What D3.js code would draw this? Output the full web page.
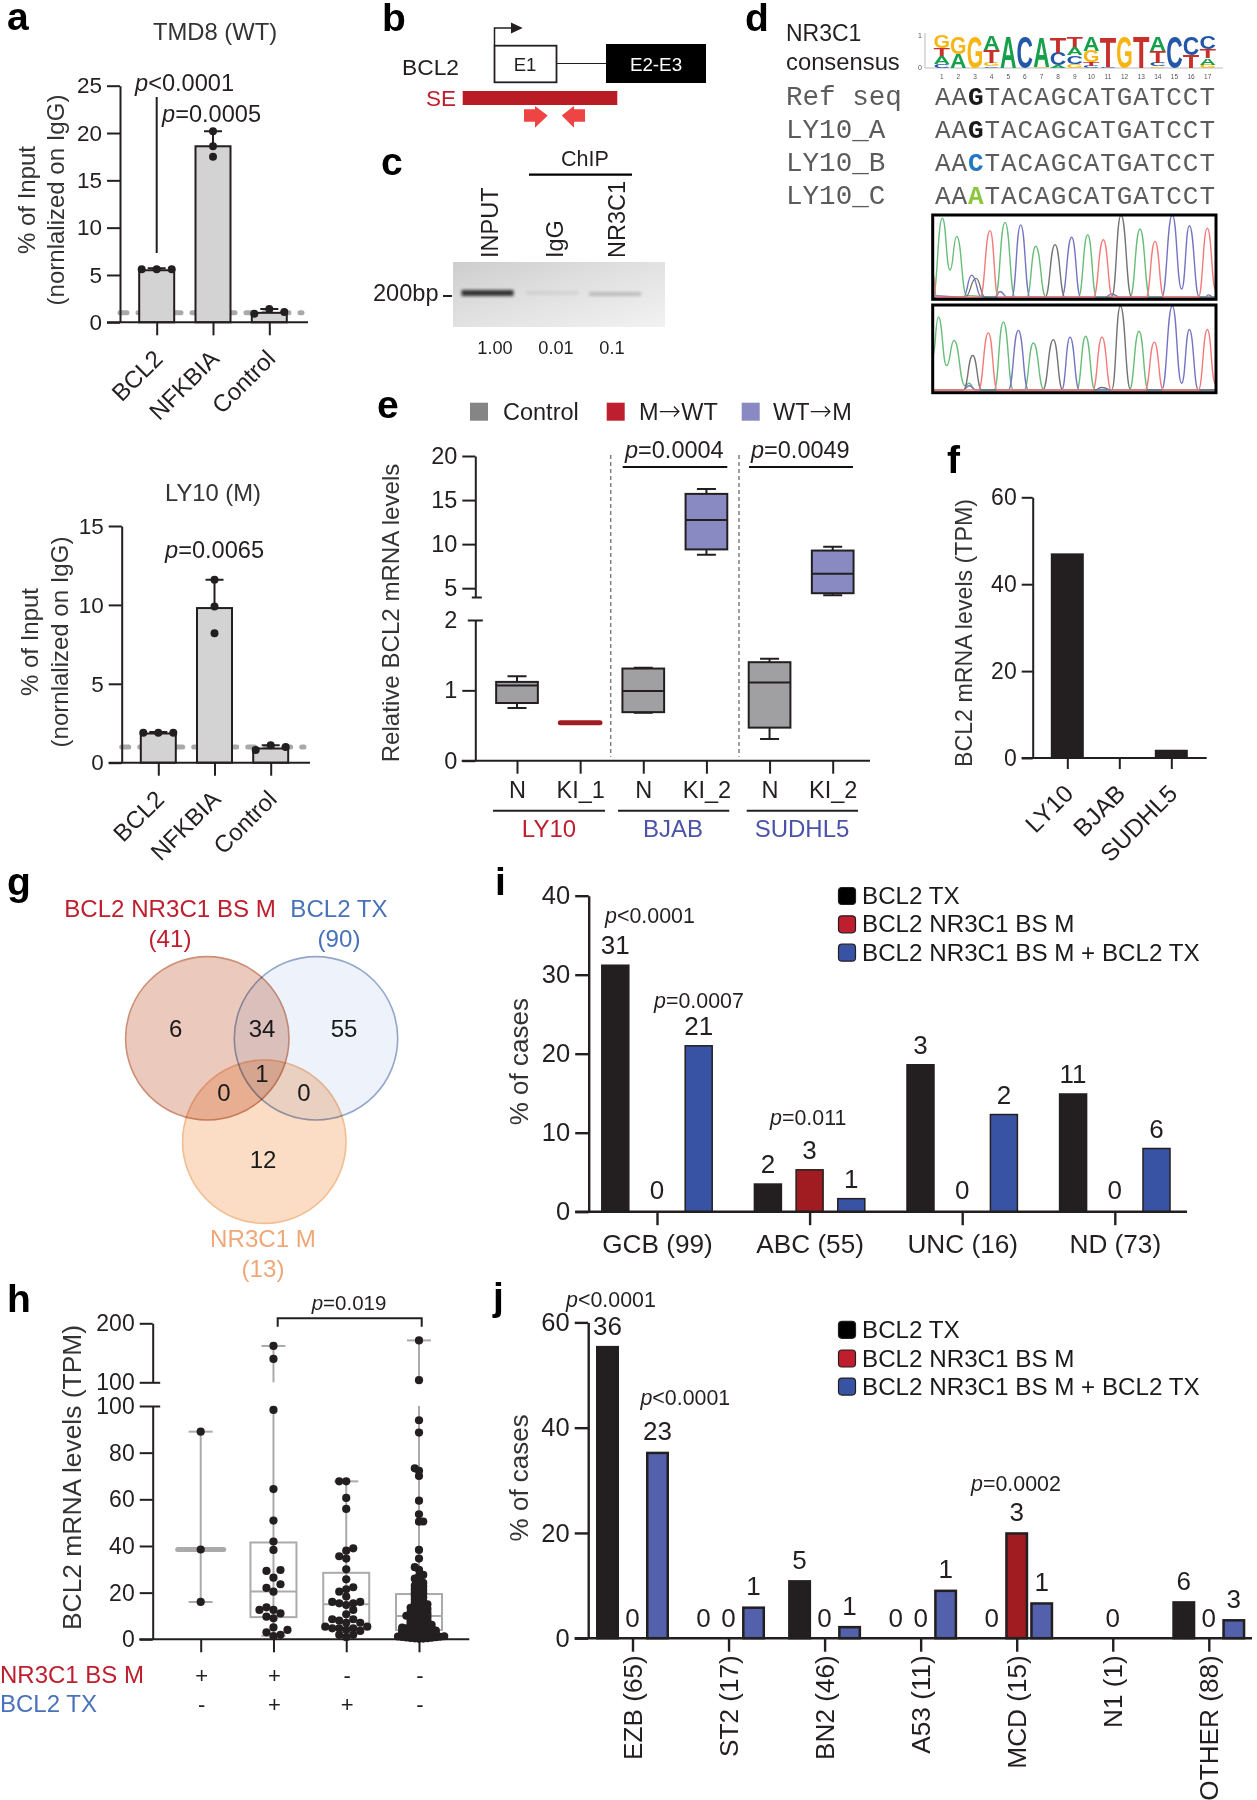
<!DOCTYPE html>
<html><head><meta charset="utf-8">
<script src="https://cdn.jsdelivr.net/npm/d3@7/dist/d3.min.js"></script>
<style>html,body{margin:0;background:#fff}svg{display:block;font-family:"Liberation Sans",Arial,sans-serif}</style>
</head><body><div id="c"></div>
<script>
// ---------- data ----------
const chipTargets = ["BCL2","NFKBIA","Control"];
const tmd8Bars = [5.5,18.6,1.0];
const tmd8Points = [[5.6,5.6,5.6],[20.2,18.6,17.5],[0.9,1.4,1.1]];
const tmd8Caps = [5.7,20.2,1.4];
const ly10Bars = [1.85,9.8,0.9];
const ly10Points = [[1.9,1.9,1.9],[11.6,9.9,8.2],[0.8,1.1,1.0]];
const ly10Caps = [1.95,11.6,1.1];

const gelLanes = ["INPUT","IgG","NR3C1"];
const gelRatios = ["1.00","0.01","0.1"];
const gelDarkness = [0.88,0.07,0.2];

const logoLetters = [
 [["C",.12],["A",.23],["T",.25],["G",.38]],
 [["A",.42],["G",.5]],
 [["G",.95]],
 [["C",.05],["G",.1],["T",.4],["A",.42]],
 [["A",.97]],
 [["C",.97]],
 [["G",.03],["A",.92]],
 [["A",.08],["C",.38],["T",.49]],
 [["G",.13],["C",.25],["A",.25],["T",.33]],
 [["C",.07],["T",.1],["G",.36],["A",.44]],
 [["C",.03],["T",.94]],
 [["G",.97]],
 [["T",.97]],
 [["G",.05],["C",.1],["T",.36],["A",.45]],
 [["C",.97]],
 [["T",.4],["C",.55]],
 [["G",.1],["A",.2],["T",.27],["C",.41]]
];
const logoColors = {A:"#17a04c",C:"#2358a8",G:"#f6b512",T:"#c8302c"};
const seqNames = ["Ref seq","LY10_A","LY10_B","LY10_C"];
const seqPrefix = "AA";
const seqVariant = ["G","G","C","A"];
const seqVariantColor = ["#1a1a1a","#1a1a1a","#1f78c1","#8cc63f"];
const seqSuffix = "TACAGCATGATCCT";

const trace1 = {
 green:[[38,0],[67,96],[90,33],[110,74],[140,2],[225,0],[255,91],[285,0],[320,0],[347,62],[378,0],[475,0],[503,76],[530,0],[630,0],[660,83],[690,0],[888,0]],
 blue:[[38,2],[130,0],[155,27],[185,0],[225,0],[240,7],[262,0],[275,0],[302,88],[330,0],[425,0],[455,73],[482,0],[555,0],[575,4],[600,0],[725,0],[757,100],[785,10],[808,87],[838,0],[855,0],[865,3],[880,0]],
 gray:[[38,0],[135,0],[168,23],[195,0],[375,0],[405,64],[435,0],[575,0],[603,100],[635,0],[888,0]],
 red:[[38,30],[50,0],[180,0],[210,81],[235,0],[520,0],[550,70],[578,0],[678,0],[705,68],[732,0],[835,0],[862,84],[888,8]]
};
const trace2 = {
 green:[[38,40],[55,87],[80,29],[102,59],[135,5],[147,8],[165,0],[222,0],[250,81],[280,0],[312,0],[340,56],[372,0],[470,0],[497,64],[525,0],[628,0],[657,70],[685,0],[888,0]],
 blue:[[38,0],[130,0],[147,5],[170,0],[265,0],[295,71],[325,0],[425,0],[450,63],[478,0],[725,0],[757,100],[785,8],[808,72],[835,0],[888,0]],
 gray:[[38,0],[130,0],[158,41],[185,0],[368,0],[400,60],[428,0],[525,0],[545,3],[575,0],[601,100],[632,0],[888,0]],
 red:[[38,0],[175,0],[205,68],[232,0],[518,0],[546,63],[574,0],[675,0],[703,57],[730,0],[835,0],[862,72],[886,8]]
};
const traceColors = {green:"#68bd7a",blue:"#7474c2",gray:"#737373",red:"#f47a7a"};

const eLegend = [["Control"],["M","WT"],["WT","M"]];
const eLegendColors = ["#858585","#be1e2d","#8a8ac2"];
const eTickNames = ["N","KI_1","N ","KI_2","N  ","KI_2 "];
const eGroups = ["LY10","BJAB","SUDHL5"];
const eGroupColors = ["#be1e2d","#4b52a8","#4b52a8"];
const eLow  = [0.75,null,0.68,8.8,0.31,4.2];
const eQ1   = [0.82,0.54,0.69,9.4,0.47,4.43];
const eMed  = [1.07,0.54,0.99,12.75,1.11,6.63];
const eQ3   = [1.12,0.54,1.31,15.7,1.40,9.27];
const eHigh = [1.20,null,1.32,16.26,1.45,9.7];
const eFill = ["#a0a0a3","#a01c20","#a0a0a3","#8a8ac2","#a0a0a3","#8a8ac2"];
const eUpper= [false,false,false,true,false,true];

const fLines = ["LY10","BJAB","SUDHL5"];
const fValues = [47.1,0.2,1.9];

const vennCounts = [6,34,55,1,0,0,12];
const vennTitles = ["BCL2 NR3C1 BS M","BCL2 TX","NR3C1 M"];
const vennTotals = ["(41)","(90)","(13)"];

const hGroupKeys = ["g1","g2","g3","g4"];
const hRowA = ["+","+","-","-"];
const hRowB = ["-","+","+","-"];
const hQ1 = [null,9.5,5,4];
const hMedian = [38.5,20.5,15,10];
const hQ3 = [null,41.5,28.5,19.4];
const hMin = [16,1.5,0.9,0.2];
const hMax = [89,161.6,67.7,171];
const hGroup1 = [89,38.5,16];
const hGroup2 = [161.6,139.6,98.3,64.4,50.9,41.9,38.3,29.7,29.3,26.4,23.6,22,20.4,13.7,12.6,12.6,11.1,9.7,9,5.1,4,3,1.9,1.4];
const hGroup3 = [67.7,67.7,60.6,55.9,39,38,35.6,34.6,30,25.7,22.3,21.4,20.4,18.3,16,16,15.4,15.4,14.7,12.6,10.7,8.6,8.6,8,7.1,7.1,5.4,5.4,4.7,4.7,4.7,4,3.6,1.9,1.9,0.9];
const hGroup4 = [171,103.6,93.9,88.6,73.3,72.2,70,59.4,53.6,50.5,50.4,38.3,34.6,30.9,29.8,27.6,27.1,26,25.3,24.2,23.9,23,22.6,22,21.4,21.1,20.4,20,19.7,19.1,18.6,18,17.7,17,16.4,16.1,15.6,15,14.6,14.3,13.9,13.5,13.2,13,12.6,12.4,12,11.6,11.4,11,10.7,10.5,10.1,10,9.7,9.4,9.3,9,8.7,8.5,8.2,8,7.8,7.4,7.3,7,6.7,6.6,6.2,6,5.7,5.6,5.2,5,4.8,4.7,4.3,4.1,4,3.9,3.5,3.4,3.1,3,2.9,2.6,2.5,2.2,2,1.9,1.6,1.5,1.4,1.3,1.1,1,0.9,0.8,0.7,0.6,0.5,0.4,0.3,0.2,2.7,3.3,3.7,4.5,5.4,1.7,2.3,1.2];

const legendNames = ["BCL2 TX","BCL2 NR3C1 BS M","BCL2 NR3C1 BS M + BCL2 TX"];
const seriesKeys = ["tx","bs","both"];
const seriesColorsI = ["#231f20","#a01c20","#3953a4"];
const seriesColorsJ = ["#231f20","#a01c20","#5361ad"];
const legendColors = ["#000000","#be1e2d","#3953a4"];
const iCats = ["GCB (99)","ABC (55)","UNC (16)","ND (73)"];
const iTx   = [31.2,3.5,18.6,14.9];
const iBs   = [0,5.3,0,0];
const iBoth = [21,1.65,12.3,8.0];
const iTxN  = [31,2,3,11];
const iBsN  = [0,3,0,0];
const iBothN= [21,1,2,6];
const jCats = ["EZB (65)","ST2 (17)","BN2 (46)","A53 (11)","MCD (15)","N1 (1)","OTHER (88)"];
const jTx   = [55.3,0,10.8,0,0,0,6.8];
const jBs   = [0,0,0,0,19.9,0,0];
const jBoth = [35.2,5.8,2.1,9,6.6,0,3.4];
const jTxN  = [36,0,5,0,0,null,6];
const jBsN  = [0,0,0,0,3,0,0];
const jBothN= [23,1,1,1,1,null,3];

// ---------- helpers ----------
const ink = "#231f20";
const svg = d3.select("#c").append("svg").attr("width",1257).attr("height",1800).attr("viewBox","0 0 1257 1800");
const defs = svg.append("defs");

function txt(x,y,s,o={}){
  const t = svg.append("text").attr("x",x).attr("y",y).attr("font-size",o.size||22).attr("fill",o.fill||ink).text(s);
  if(o.anchor) t.attr("text-anchor",o.anchor);
  if(o.weight) t.attr("font-weight",o.weight);
  if(o.family) t.attr("font-family",o.family);
  if(o.rot!==undefined) t.attr("transform",`rotate(${o.rot} ${x} ${y})`);
  return t;
}
function ptxt(x,y,s,size){
  const t = svg.append("text").attr("x",x).attr("y",y).attr("font-size",size).attr("fill",ink);
  t.append("tspan").attr("font-style","italic").text("p");
  t.append("tspan").text(s);
}
function hline(x1,x2,y,w=2,c=ink){svg.append("line").attr("x1",x1).attr("x2",x2).attr("y1",y).attr("y2",y).attr("stroke",c).attr("stroke-width",w);}
function styleAxis(ax,font,w=2){
  ax.attr("font-family",null);
  ax.selectAll("path,line").attr("stroke",ink).attr("stroke-width",w);
  ax.selectAll("text").attr("font-size",font).attr("fill",ink);
}
function axisLeft(x,scale,ticks,font=22.5,size=13,w=2){
  const ax = svg.append("g").attr("transform",`translate(${x},0)`)
    .call(d3.axisLeft(scale).tickValues(ticks).tickFormat(d3.format("d")).tickSize(size).tickPadding(5).tickSizeOuter(0));
  styleAxis(ax,font,w); return ax;
}
function axisBottom(y,scale,font=22,size=13,pad=8,w=2){
  const ax = svg.append("g").attr("transform",`translate(0,${y})`)
    .call(d3.axisBottom(scale).tickSize(size).tickPadding(pad).tickSizeOuter(0));
  ax.select(".domain").remove();
  styleAxis(ax,font,w); return ax;
}
function rotateLabels(ax,dx,dy,deg=-45){
  ax.selectAll("text").attr("text-anchor","end").attr("x",0).attr("y",0).attr("dy",0)
    .attr("transform",`translate(${dx},${dy}) rotate(${deg})`);
}

// ---------- panel letters ----------
[["a",7,30],["b",382,31],["c",381,175],["d",745,31],["e",377,418],["f",947,473],["g",7,895],["h",7,1312],["i",495,895],["j",493,1310]]
 .forEach(d=>txt(d[1],d[2],d[0],{size:39,weight:"bold",fill:"#000"}));

// ---------- panel a ----------
function chipPanel(o){
  const y = d3.scaleLinear().domain([0,o.max]).range([o.y0,o.yTop]);
  const x = d3.scalePoint().domain(chipTargets).range(o.xr);
  const bw=35, off=15;
  svg.append("line").attr("x1",o.ax).attr("x2",o.xEnd-6).attr("y1",y(1)).attr("y2",y(1))
    .attr("stroke","#a9a9a9").attr("stroke-width",5).attr("stroke-linecap","round").attr("stroke-dasharray","7 11");
  svg.append("g").selectAll("rect").data(chipTargets).join("rect")
    .attr("x",d=>x(d)-bw/2).attr("width",bw)
    .attr("y",(d,i)=>y(o.bars[i])).attr("height",(d,i)=>y(0)-y(o.bars[i]))
    .attr("fill","#d3d3d3").attr("stroke",ink).attr("stroke-width",2);
  svg.append("g").selectAll("path").data(chipTargets).join("path")
    .attr("d",(d,i)=>`M${x(d)},${y(o.bars[i])}V${y(o.caps[i])}M${x(d)-9},${y(o.caps[i])}H${x(d)+9}`)
    .attr("stroke",ink).attr("stroke-width",2).attr("fill","none");
  chipTargets.forEach((d,i)=>{
    const sideways = i!==1;
    svg.append("g").selectAll("circle").data(o.points[i]).join("circle")
      .attr("cx",(v,k)=>x(d)+(sideways?(k-1)*off:0)).attr("cy",v=>y(v)).attr("r",4).attr("fill",ink);
  });
  axisLeft(o.ax,y,o.ticks,22.5);
  hline(o.ax-13,o.xEnd,y(0));
  const bx = axisBottom(o.y0,x,24,13);
  rotateLabels(bx,o.ldx,o.ldy);
  txt(o.labX,o.labY,"% of Input",{size:24,rot:-90,anchor:"middle",fill:"#333"});
  txt(o.labX2,o.labY,"(nornlalized on IgG)",{size:24,rot:-90,anchor:"middle",fill:"#333"});
  txt(o.titleX,o.titleY,o.title,{size:23.8,anchor:"middle",fill:"#333"});
}
chipPanel({title:"TMD8 (WT)",titleX:215,titleY:40,bars:tmd8Bars,points:tmd8Points,caps:tmd8Caps,max:25,ticks:[0,5,10,15,20,25],
  y0:322.3,yTop:85.7,xr:[156.7,269.3],ax:120,xEnd:308,labX:35,labX2:64,labY:200,ldx:7,ldy:38});
svg.append("line").attr("x1",156.7).attr("x2",156.7).attr("y1",97).attr("y2",253).attr("stroke",ink).attr("stroke-width",2);
ptxt(135,90.7,"<0.0001",23.6); ptxt(162,121.7,"=0.0005",23.6);
chipPanel({title:"LY10 (M)",titleX:213,titleY:501,bars:ly10Bars,points:ly10Points,caps:ly10Caps,max:15,ticks:[0,5,10,15],
  y0:762.7,yTop:526,xr:[158.3,270.7],ax:121.7,xEnd:310,labX:38,labX2:68,labY:642,ldx:7,ldy:38});
ptxt(165,558,"=0.0065",23.6);

// ---------- panel b ----------
txt(402,75,"BCL2",{size:22.8});
svg.append("rect").attr("x",494.5).attr("y",45.7).attr("width",62).attr("height",36.6).attr("fill","#fff").attr("stroke",ink).attr("stroke-width",1.8);
svg.append("line").attr("x1",556.7).attr("x2",606).attr("y1",63.5).attr("y2",63.5).attr("stroke",ink).attr("stroke-width",1.2);
svg.append("rect").attr("x",606).attr("y",44).attr("width",100).attr("height",39).attr("fill","#000");
txt(525,71,"E1",{size:18.5,anchor:"middle"});
txt(656,71,"E2-E3",{size:18.8,anchor:"middle",fill:"#fff"});
svg.append("path").attr("d","M494.5,45V28H512").attr("fill","none").attr("stroke",ink).attr("stroke-width",1.5);
svg.append("path").attr("d","M511,22.5L522.7,28L511,33.5Z").attr("fill",ink);
txt(426,106,"SE",{size:22.5,fill:"#be1e2d"});
svg.append("rect").attr("x",462.7).attr("y",91).attr("width",154.6).attr("height",14).attr("fill","#b91c25");
svg.append("path").attr("d","M524,109.3H535V106L547.7,115.5L535,127.7V121.7H524Z").attr("fill","#ef4444");
svg.append("path").attr("d","M585,109.3H574V106L561.7,115.5L574,127.7V121.7H585Z").attr("fill","#ef4444");

// ---------- panel c ----------
txt(585,165.7,"ChIP",{size:21.5,anchor:"middle"});
hline(529,632,174.7,2.2,"#000");
const gelGrad = defs.append("linearGradient").attr("id","gel").attr("x1",0).attr("y1",0).attr("x2",1).attr("y2",1);
gelGrad.append("stop").attr("offset",0).attr("stop-color","#cdcdcd");
gelGrad.append("stop").attr("offset",.45).attr("stop-color","#e0e0e0");
gelGrad.append("stop").attr("offset",1).attr("stop-color","#f2f2f2");
defs.append("filter").attr("id","blur").attr("x","-20%").attr("y","-100%").attr("width","140%").attr("height","300%")
  .append("feGaussianBlur").attr("stdDeviation",1.7);
svg.append("rect").attr("x",453).attr("y",262).attr("width",212).attr("height",65).attr("fill","url(#gel)");
const laneX = d3.scaleOrdinal().domain(gelLanes).range([487.5,552.5,615]);
const laneLabelX = d3.scaleOrdinal().domain(gelLanes).range([498,563,625]);
const ratioX = d3.scaleOrdinal().domain(gelRatios).range([495,556,612]);
svg.append("g").selectAll("rect").data(gelLanes).join("rect")
  .attr("x",d=>laneX(d)-26).attr("width",52).attr("y",(d,i)=>290+i).attr("height",(d,i)=>i?4:6)
  .attr("fill","#1e1e1e").attr("opacity",(d,i)=>gelDarkness[i]).attr("filter","url(#blur)");
gelLanes.forEach(d=>txt(laneLabelX(d),258,d,{size:23.5,rot:-90}));
gelRatios.forEach(d=>txt(ratioX(d),354,d,{size:18.2,anchor:"middle"}));
txt(373,300.7,"200bp",{size:23.6});
hline(443,452,296,2);

// ---------- panel d ----------
txt(786,40.7,"NR3C1",{size:23}); txt(786,70,"consensus",{size:23.8});
const logoX = d3.scaleLinear().domain([1,17]).range([941.7,1207.7]);
const logoY = d3.scaleLinear().domain([0,1]).range([68,35]);
svg.append("path").attr("d","M925,33V68H1223").attr("fill","none").attr("stroke","#bbb").attr("stroke-width",1);
txt(920,38,"1",{size:7,anchor:"middle",fill:"#555"}); txt(920,70,"0",{size:7,anchor:"middle",fill:"#555"});
const logoG = svg.append("g");
logoLetters.forEach((col,i)=>{
  let acc=0;
  col.forEach(([ch,h])=>{
    const t = logoG.append("text").attr("font-size",20).attr("font-weight","bold").attr("text-anchor","middle")
      .attr("fill",logoColors[ch]).text(ch);
    const adv = t.node().getComputedTextLength();
    const sx = 16.5/adv, sy = (logoY(0)-logoY(h))/(20*0.716);
    t.attr("transform",`translate(${logoX(i+1)},${logoY(acc)}) scale(${sx},${sy})`);
    acc+=h;
  });
  txt(logoX(i+1),79,String(i+1),{size:6.5,anchor:"middle",fill:"#555"});
});
const seqY = d3.scalePoint().domain(seqNames).range([105,204]);
seqNames.forEach((n,i)=>{
  txt(786,seqY(n),n,{size:27.6,family:"Liberation Mono",fill:"#5c5c5c"});
  const t = svg.append("text").attr("x",935).attr("y",seqY(n)).attr("font-family","Liberation Mono").attr("font-size",26).attr("fill","#5c5c5c")
     .attr("textLength",280).attr("lengthAdjust","spacing");
  t.append("tspan").text(seqPrefix);
  t.append("tspan").attr("font-weight","bold").attr("fill",seqVariantColor[i]).text(seqVariant[i]);
  t.append("tspan").text(seqSuffix);
});
function chromatogram(trace,top,base,boxTop,boxBottom){
  const x = d3.scaleLinear().domain([38,888]).range([932.7,1216]);
  const y = d3.scaleLinear().domain([0,100]).range([base,top]);
  const line = d3.line().x(d=>x(d[0])).y(d=>y(d[1])).curve(d3.curveBumpX);
  Object.keys(trace).forEach(k=>{
    svg.append("path").attr("d",line(trace[k])).attr("fill","none").attr("stroke",traceColors[k]).attr("stroke-width",1.4);
  });
  svg.append("rect").attr("x",932.7).attr("y",boxTop).attr("width",283.3).attr("height",boxBottom-boxTop)
    .attr("fill","none").attr("stroke","#000").attr("stroke-width",3);
}
chromatogram(trace1,215,297.3,215,299.3);
chromatogram(trace2,306,390,305,392.7);

// ---------- panel e ----------
const eLegX=[470,606.7,741.7], eLegT=[503,639,773];
eLegend.forEach((d,i)=>{
  svg.append("rect").attr("x",eLegX[i]).attr("y",402.7).attr("width",18).attr("height",18).attr("fill",eLegendColors[i]);
  const t = svg.append("text").attr("x",eLegT[i]).attr("y",420).attr("font-size",23.5).attr("fill",ink);
  t.append("tspan").text(d[0]);
  if(d[1]){
    t.append("tspan").attr("font-family","DejaVu Sans").attr("font-size",27).attr("font-weight","200").text("\u2192");
    t.append("tspan").text(d[1]);
  }
});
const eLowY = d3.scaleLinear().domain([0,2]).range([760.7,620]);
const eHiY = d3.scaleLinear().domain([4,20]).range([597,456]);
const eX = d3.scalePoint().domain(eTickNames).range([517,832.7]);
const eAxLow = axisLeft(475.3,eLowY,[0,1,2],23.5);
eAxLow.selectAll(".tick").filter(d=>d===2).select("line").attr("x1",7.5).attr("x2",-7.5);
const eAxHi = axisLeft(475.3,eHiY,[4,5,10,15,20],23.5);
eAxHi.selectAll(".tick").filter(d=>d===4).select("text").remove();
eAxHi.selectAll(".tick").filter(d=>d===4).select("line").attr("x1",6.5).attr("x2",-3.5);
hline(461.7,870,760.7);
const eAxB = axisBottom(760.7,eX,23.5,13,8);
eAxB.selectAll("text").text(d=>d.trim());
const eBoxW = 41.7;
eTickNames.forEach((n,i)=>{
  const sc = eUpper[i]?eHiY:eLowY, cx=eX(n), g=svg.append("g");
  const st = s=>s.attr("stroke",ink).attr("stroke-width",2);
  if(eLow[i]!==null){
    st(g.append("path").attr("fill","none").attr("d",
      `M${cx-9.5},${sc(eHigh[i])}H${cx+9.5}M${cx},${sc(eHigh[i])}V${sc(eQ3[i])}M${cx},${sc(eQ1[i])}V${sc(eLow[i])}M${cx-9.5},${sc(eLow[i])}H${cx+9.5}`));
    st(g.append("rect").attr("x",cx-eBoxW/2).attr("width",eBoxW).attr("y",sc(eQ3[i])).attr("height",sc(eQ1[i])-sc(eQ3[i])).attr("fill",eFill[i]));
    st(g.append("line").attr("x1",cx-eBoxW/2).attr("x2",cx+eBoxW/2).attr("y1",sc(eMed[i])).attr("y2",sc(eMed[i])));
  } else {
    g.append("line").attr("x1",cx-eBoxW/2+1).attr("x2",cx+eBoxW/2-1).attr("y1",sc(eMed[i])).attr("y2",sc(eMed[i]))
     .attr("stroke",eFill[i]).attr("stroke-width",5).attr("stroke-linecap","round");
  }
});
[610.7,739].forEach(x=>svg.append("line").attr("x1",x).attr("x2",x).attr("y1",455).attr("y2",756.7)
   .attr("stroke","#808080").attr("stroke-width",1.5).attr("stroke-dasharray","4 3"));
ptxt(625,458,"=0.0004",23.5); hline(622.7,727.3,467,2,"#111");
ptxt(751,458,"=0.0049",23.5); hline(749,853,467,2,"#111");
const eSpan=[[493,605],[618,729.3],[746.7,858]], eCx=[549,673,802];
eGroups.forEach((g,i)=>{
  hline(eSpan[i][0],eSpan[i][1],810.7,2);
  txt(eCx[i],836.7,g,{size:24,anchor:"middle",fill:eGroupColors[i]});
});
txt(399,613,"Relative BCL2 mRNA levels",{size:24.1,rot:-90,anchor:"middle",fill:"#333"});

// ---------- panel f ----------
const fY = d3.scaleLinear().domain([0,60]).range([758,497.3]);
const fX = d3.scalePoint().domain(fLines).range([1067.3,1171.3]);
svg.append("g").selectAll("rect").data(fLines).join("rect")
  .attr("x",d=>fX(d)-16.5).attr("width",33).attr("y",(d,i)=>fY(fValues[i])).attr("height",(d,i)=>fY(0)-fY(fValues[i])).attr("fill",ink);
axisLeft(1032.7,fY,[0,20,40,60],23,11);
hline(1021.7,1206.7,758);
rotateLabels(axisBottom(758,fX,24.5,11),7,37);
txt(971.7,633,"BCL2 mRNA levels (TPM)",{size:23.2,rot:-90,anchor:"middle",fill:"#333"});

// ---------- panel g ----------
const vennG = svg.append("g").style("isolation","isolate");
const vennCircles=[{cx:207.3,cy:1038.3,f:"#ebcabd",s:"#cd8f75"},{cx:316,cy:1038.3,f:"#edf2fb",s:"#94a6ca"},{cx:264.3,cy:1141.7,f:"#fbdcc4",s:"#f3bd92"}];
vennG.selectAll("circle").data(vennCircles).join("circle").attr("cx",d=>d.cx).attr("cy",d=>d.cy).attr("r",81.7)
  .attr("fill",d=>d.f).attr("stroke",d=>d.s).attr("stroke-width",1.6).style("mix-blend-mode","multiply");
const vennAt=[[175.7,1037],[262,1037],[344,1037],[262,1082],[224,1101],[304,1101],[263,1168]];
vennCounts.forEach((v,i)=>txt(vennAt[i][0],vennAt[i][1],v,{size:24,anchor:"middle",fill:"#1a1a1a"}));
const vennLab=[[170,917,"#be1e2d"],[339,917,"#4a72b8"],[263,1247,"#f0a878"]];
vennTitles.forEach((t,i)=>{
  txt(vennLab[i][0],vennLab[i][1],t,{size:24.1,anchor:"middle",fill:vennLab[i][2]});
  txt(vennLab[i][0],vennLab[i][1]+29.5,vennTotals[i],{size:24.1,anchor:"middle",fill:vennLab[i][2]});
});

// ---------- panel h ----------
const hLow = d3.scaleLinear().domain([0,100]).range([1639.3,1406]);
const hHigh = d3.scaleLinear().domain([100,200]).range([1382.3,1323.3]);
const hVal = v=> v>100 ? hHigh(v) : hLow(v);
const hX = d3.scalePoint().domain(hGroupKeys).range([200.7,419]);
const hAxL = axisLeft(152.7,hLow,[0,20,40,60,80,100],23);
hAxL.selectAll(".tick").filter(d=>d===100).select("line").attr("x1",7.5);
const hAxH = axisLeft(152.7,hHigh,[100,200],23);
hAxH.selectAll(".tick").filter(d=>d===100).select("line").attr("x1",7.5);
hline(139.3,469.3,1639.3);
const hAxB = axisBottom(1639.3,hX,22,13);
hAxB.selectAll("text").remove();
const gray="#aaaaaa";
hGroupKeys.forEach((k,i)=>{
  const cx=hX(k), g=svg.append("g").attr("fill","none").attr("stroke",gray).attr("stroke-width",2);
  if(hMax[i]>100){
    g.append("line").attr("x1",cx).attr("x2",cx).attr("y1",hLow(100)).attr("y2",hLow(hMin[i]));
    g.append("line").attr("x1",cx).attr("x2",cx).attr("y1",hHigh(100)).attr("y2",hHigh(hMax[i]));
  } else {
    g.append("line").attr("x1",cx).attr("x2",cx).attr("y1",hVal(hMax[i])).attr("y2",hVal(hMin[i]));
  }
  g.append("line").attr("x1",cx-12).attr("x2",cx+12).attr("y1",hVal(hMax[i])).attr("y2",hVal(hMax[i]));
  if(hQ3[i]!==null){
    g.append("rect").attr("x",cx-23).attr("width",46).attr("y",hLow(hQ3[i])).attr("height",hLow(hQ1[i])-hLow(hQ3[i]));
    g.append("line").attr("x1",cx-23).attr("x2",cx+23).attr("y1",hLow(hMedian[i])).attr("y2",hLow(hMedian[i]));
  } else {
    g.append("line").attr("x1",cx-23).attr("x2",cx+23).attr("y1",hLow(hMedian[i])).attr("y2",hLow(hMedian[i])).attr("stroke-width",5).attr("stroke-linecap","round");
    g.append("line").attr("x1",cx-12).attr("x2",cx+12).attr("y1",hVal(hMin[i])).attr("y2",hVal(hMin[i]));
  }
  if(hMin[i]>1 && hQ3[i]!==null) g.append("line").attr("x1",cx-12).attr("x2",cx+12).attr("y1",hVal(hMin[i])).attr("y2",hVal(hMin[i]));
});
function swarm(vals,step,minDy){
  const placed=[]; let side=1;
  vals.slice().sort(d3.ascending).forEach(v=>{
    const y=hVal(v);
    for(let n=0;n<40;n++){
      const k = n===0?0:(n%2?1:-1)*Math.ceil(n/2)*side, x=k*step;
      if(!placed.some(p=>p.x===x && Math.abs(p.y-y)<minDy)){placed.push({x,y}); if(k!==0) side=-side; break;}
    }
  });
  return placed;
}
[[hGroup1,7,7],[hGroup2,7,8],[hGroup3,7,6.5],[hGroup4,4.2,2.6]].forEach((d,i)=>{
  svg.append("g").selectAll("circle").data(swarm(d[0],d[1],d[2])).join("circle")
    .attr("cx",p=>hX(hGroupKeys[i])+p.x).attr("cy",p=>p.y).attr("r",4.1).attr("fill",ink);
});
svg.append("path").attr("d","M277.7,1326.7V1318.3H421.7V1326.7").attr("fill","none").attr("stroke",ink).attr("stroke-width",2);
ptxt(311.7,1310,"=0.019",20.5);
txt(81,1477.5,"BCL2 mRNA levels (TPM)",{size:26.4,rot:-90,anchor:"middle",fill:"#333"});
txt(0,1682.7,"NR3C1 BS M",{size:24,fill:"#be1e2d"});
txt(0,1711.7,"BCL2 TX",{size:24,fill:"#4a72b8"});
hGroupKeys.forEach((k,i)=>{
  txt(hX(k)+1,1682.7,hRowA[i],{size:22,anchor:"middle"});
  txt(hX(k)+1,1711.7,hRowB[i],{size:22,anchor:"middle"});
});

// ---------- panels i and j ----------
function legend(ys){
  legendNames.forEach((n,i)=>{
    svg.append("rect").attr("x",838.5).attr("y",ys[i]-8.5).attr("width",17).attr("height",17).attr("rx",3.5)
      .attr("fill",legendColors[i]).attr("stroke",ink).attr("stroke-width",1.2);
    txt(862,ys[i]+8,n,{size:24.2,fill:"#1a1a1a"});
  });
}
function groupedBars(o){
  const y = d3.scaleLinear().domain([0,o.max]).range([o.y0,o.yTop]);
  const x = d3.scalePoint().domain(o.cats).range(o.xr);
  const s = d3.scalePoint().domain(seriesKeys).range([-o.off,o.off]);
  seriesKeys.forEach((k,si)=>{
    const data=o.series[si].map((v,i)=>({v,c:o.cats[i],n:o.counts[si][i]}));
    svg.append("g").selectAll("rect").data(data.filter(d=>d.v>0)).join("rect")
      .attr("x",d=>x(d.c)+s(k)-o.bw/2).attr("width",o.bw).attr("y",d=>y(d.v)).attr("height",d=>y(0)-y(d.v))
      .attr("fill",o.colors[si]).attr("stroke",ink).attr("stroke-width",o.stroke);
    svg.append("g").selectAll("text").data(data.filter(d=>d.n!==null)).join("text")
      .attr("x",d=>x(d.c)+s(k)).attr("y",d=>y(d.v)-(d.v>0?o.gap:o.gap0))
      .attr("text-anchor","middle").attr("font-size",26).attr("fill",ink).text(d=>d.n);
  });
  axisLeft(o.ax,y,o.ticks,25.5,13.5,2.4);
  hline(o.ax-13.5,o.xEnd,o.y0,2.6);
  return {x,ax:axisBottom(o.y0,x,26.2,13.5,o.pad,2.4)};
}
groupedBars({cats:iCats,series:[iTx,iBs,iBoth],counts:[iTxN,iBsN,iBothN],colors:seriesColorsI,max:40,ticks:[0,10,20,30,40],
  y0:1211.7,yTop:895.7,xr:[657,1114.8],off:41.7,bw:27,ax:588.7,xEnd:1187,gap:11,gap0:13,stroke:1.5,pad:9});
legend([896,924.3,952.7]);
txt(528,1061.7,"% of cases",{size:26,rot:-90,anchor:"middle",fill:"#333"});
ptxt(605,923,"<0.0001",21.4); ptxt(654,1007.7,"=0.0007",21.4); ptxt(770,1125,"=0.011",21.4);

const jChart = groupedBars({cats:jCats,series:[jTx,jBs,jBoth],counts:[jTxN,jBsN,jBothN],colors:seriesColorsJ,max:60,ticks:[0,20,40,60],
  y0:1638.2,yTop:1322.4,xr:[632.5,1208.8],off:25,bw:20.5,ax:588.2,xEnd:1252,gap:12.5,gap0:11,stroke:2.5,pad:13});
rotateLabels(jChart.ax,9,17,-90);
legend([1329.8,1358.5,1386.6]);
txt(528,1477.8,"% of cases",{size:26,rot:-90,anchor:"middle",fill:"#333"});
ptxt(566,1306.5,"<0.0001",21.4); ptxt(640.4,1405,"<0.0001",21.4); ptxt(971,1491,"=0.0002",21.4);
</script></body></html>
